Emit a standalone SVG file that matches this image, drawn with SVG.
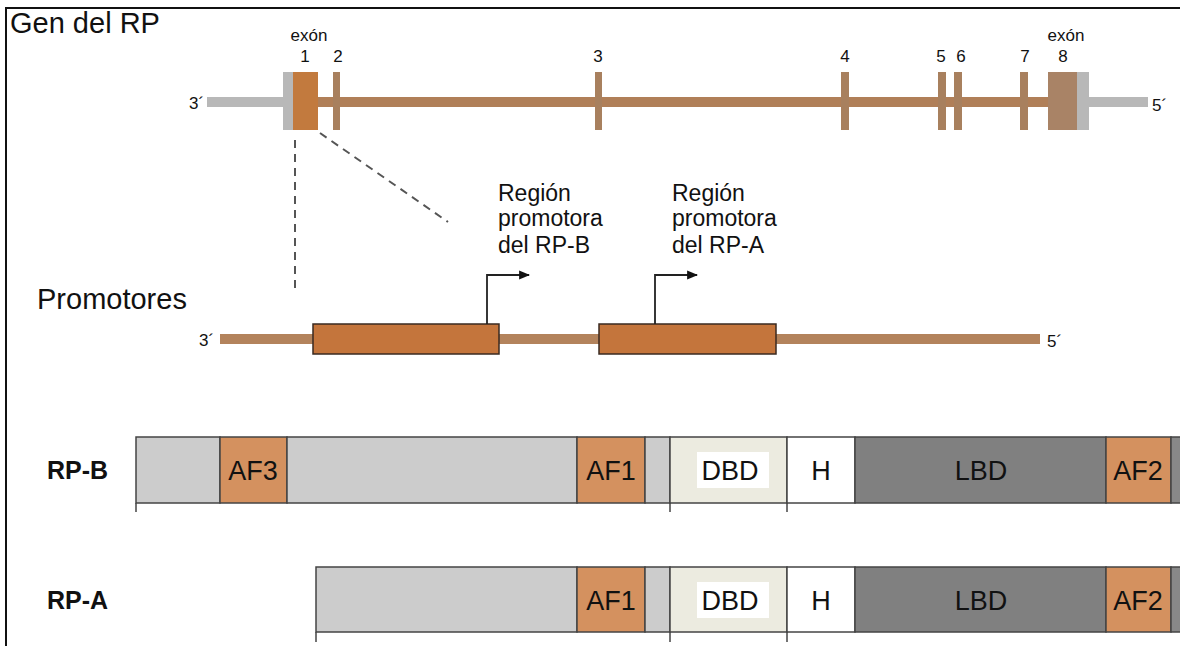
<svg xmlns="http://www.w3.org/2000/svg" width="1180" height="646" viewBox="0 0 1180 646">
<defs>
<style>
text{font-family:"Liberation Sans",Arial,sans-serif;fill:#111}
.gl{fill:#b8b8b8}
.ex{fill:#a8805e}
.seg{stroke:#444;stroke-width:1.5}
.grey{fill:#cccccc}
.af{fill:#d4915f}
.dbd{fill:#ecebe0}
.h{fill:#ffffff}
.lbd{fill:#808080}
.dlbl{font-size:27px;text-anchor:middle}
.tick{stroke:#444;stroke-width:1.5}
.num{font-size:17px;text-anchor:middle}
.reg{font-size:23px}
</style>
<marker id="ah" viewBox="0 0 10 10" refX="9" refY="5" markerWidth="11" markerHeight="11" markerUnits="userSpaceOnUse" orient="auto">
<path d="M0,1 L10,5 L0,9 z" fill="#111"/>
</marker>
</defs>
<rect x="0" y="0" width="1180" height="646" fill="#ffffff"/>
<g id="frame">
<path d="M6,646 V8 H1180" fill="none" stroke="#111" stroke-width="2"/>
</g>

<g id="gene">
<text x="10" y="33" font-size="29">Gen del RP</text>
<rect class="gl" x="207" y="97" width="77" height="10"/>
<rect x="318" y="97" width="740" height="10" fill="#b07f58"/>
<rect class="gl" x="1088" y="97" width="60" height="10"/>
<rect class="gl" x="283" y="72" width="11" height="58"/>
<rect x="293" y="72" width="25" height="58" fill="#c27a3e"/>
<rect class="ex" x="333" y="72" width="7" height="58"/>
<rect class="ex" x="595" y="72" width="7" height="58"/>
<rect class="ex" x="841" y="72" width="8" height="58"/>
<rect class="ex" x="938" y="72" width="8" height="58"/>
<rect class="ex" x="954" y="72" width="8" height="58"/>
<rect class="ex" x="1020" y="72" width="8" height="58"/>
<rect x="1048" y="72" width="29" height="58" fill="#a98366"/>
<rect class="gl" x="1077" y="72" width="12" height="58"/>
<text x="189" y="109" font-size="17">3´</text>
<text x="1152" y="111" font-size="17">5´</text>
<text class="num" x="309" y="41">exón</text>
<text class="num" x="305" y="62">1</text>
<text class="num" x="338" y="62">2</text>
<text class="num" x="598" y="62">3</text>
<text class="num" x="845" y="62">4</text>
<text class="num" x="941" y="62">5</text>
<text class="num" x="961" y="62">6</text>
<text class="num" x="1025" y="62">7</text>
<text class="num" x="1066" y="41">exón</text>
<text class="num" x="1063" y="62">8</text>
</g>

<g id="zoom-lines" fill="none" stroke="#555" stroke-width="2" stroke-dasharray="8 6">
<line x1="295" y1="140" x2="295" y2="292"/>
<line x1="320" y1="133" x2="448" y2="222"/>
</g>

<g id="promoters">
<text x="37" y="309" font-size="29">Promotores</text>
<rect x="220" y="334" width="820" height="10" fill="#b3835c"/>
<text x="199" y="346" font-size="17">3´</text>
<text x="1047" y="347" font-size="17">5´</text>
<rect x="313" y="324" width="186" height="30" fill="#c4753c" stroke="#3a2a20" stroke-width="1.5"/>
<rect x="599" y="324" width="177" height="30" fill="#c4753c" stroke="#3a2a20" stroke-width="1.5"/>
</g>

<g id="connectors" fill="none" stroke="#222" stroke-width="1.8">
<path d="M487,324 V275 H529" marker-end="url(#ah)"/>
<path d="M655,324 V275 H697" marker-end="url(#ah)"/>
</g>

<g id="label-rpb-promoter">
<text class="reg" x="498" y="201">Región</text>
<text class="reg" x="498" y="226">promotora</text>
<text class="reg" x="498" y="253">del RP-B</text>
</g>
<g id="label-rpa-promoter">
<text class="reg" x="672" y="201">Región</text>
<text class="reg" x="672" y="226">promotora</text>
<text class="reg" x="672" y="253">del RP-A</text>
</g>

<g id="rp-b">
<text x="47" y="479" font-size="25" font-weight="bold">RP-B</text>
<rect class="grey seg" x="136" y="437" width="84" height="66"/>
<rect class="af seg" x="220" y="437" width="67" height="66"/>
<rect class="grey seg" x="287" y="437" width="290" height="66"/>
<rect class="af seg" x="577" y="437" width="68" height="66"/>
<rect class="grey seg" x="645" y="437" width="25" height="66"/>
<rect class="dbd seg" x="670" y="437" width="117" height="66"/>
<rect x="697" y="452" width="72" height="36" fill="#ffffff"/>
<rect class="h seg" x="787" y="437" width="68" height="66"/>
<rect class="lbd seg" x="855" y="437" width="251" height="66"/>
<rect class="af seg" x="1106" y="437" width="65" height="66"/>
<rect class="seg" x="1171" y="437" width="12" height="66" fill="#888"/>
<line class="tick" x1="136" y1="503" x2="136" y2="512"/>
<line class="tick" x1="670" y1="503" x2="670" y2="512"/>
<line class="tick" x1="787" y1="503" x2="787" y2="512"/>
<text class="dlbl" x="253" y="480">AF3</text>
<text class="dlbl" x="611" y="480">AF1</text>
<text class="dlbl" x="730" y="480">DBD</text>
<text class="dlbl" x="821" y="480">H</text>
<text class="dlbl" x="981" y="480">LBD</text>
<text class="dlbl" x="1138" y="480">AF2</text>
</g>

<g id="rp-a">
<text x="47" y="609" font-size="25" font-weight="bold">RP-A</text>
<rect class="grey seg" x="316" y="567" width="261" height="65"/>
<rect class="af seg" x="577" y="567" width="68" height="65"/>
<rect class="grey seg" x="645" y="567" width="25" height="65"/>
<rect class="dbd seg" x="670" y="567" width="117" height="65"/>
<rect x="697" y="582" width="72" height="36" fill="#ffffff"/>
<rect class="h seg" x="787" y="567" width="68" height="65"/>
<rect class="lbd seg" x="855" y="567" width="251" height="65"/>
<rect class="af seg" x="1106" y="567" width="65" height="65"/>
<rect class="seg" x="1171" y="567" width="12" height="65" fill="#888"/>
<line class="tick" x1="316" y1="632" x2="316" y2="642"/>
<line class="tick" x1="670" y1="632" x2="670" y2="642"/>
<line class="tick" x1="787" y1="632" x2="787" y2="642"/>
<text class="dlbl" x="611" y="610">AF1</text>
<text class="dlbl" x="730" y="610">DBD</text>
<text class="dlbl" x="821" y="610">H</text>
<text class="dlbl" x="981" y="610">LBD</text>
<text class="dlbl" x="1138" y="610">AF2</text>
</g>
</svg>
